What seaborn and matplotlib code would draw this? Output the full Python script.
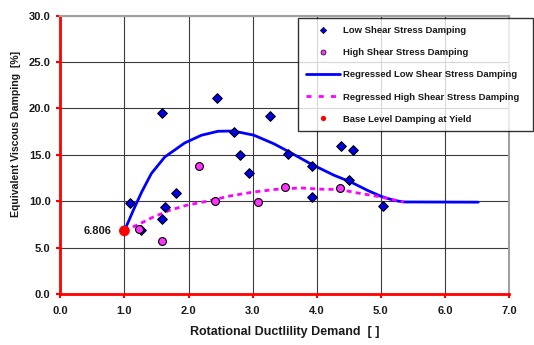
import matplotlib
matplotlib.use("Agg")
import matplotlib.pyplot as plt
from matplotlib.lines import Line2D
import seaborn as sns
import pandas as pd

# ---- data ----
low_x = [1.09, 1.26, 1.59, 1.58, 1.63, 1.80, 2.44, 2.71, 2.81, 2.95, 3.27, 3.55, 3.93, 3.93, 4.38, 4.50, 4.57, 5.04]
low_y = [9.78, 6.95, 19.49, 8.09, 9.35, 10.90, 21.14, 17.48, 14.96, 13.09, 19.14, 15.14, 13.80, 10.50, 16.00, 12.30, 15.50, 9.53]

high_x = [1.23, 1.59, 2.16, 2.42, 3.09, 3.51, 4.36]
high_y = [7.05, 5.75, 13.85, 10.00, 9.93, 11.49, 11.40]

reg_low_x = [1.0, 1.14, 1.27, 1.42, 1.63, 1.94, 2.20, 2.46, 2.70, 3.02, 3.33, 3.59, 3.90, 4.27, 4.53, 4.79, 5.0, 5.2, 5.36, 6.52]
reg_low_y = [6.806, 9.04, 11.0, 12.98, 14.77, 16.28, 17.11, 17.54, 17.57, 17.12, 16.2, 15.25, 14.05, 12.8, 12.08, 11.18, 10.54, 10.1, 9.92, 9.9]

reg_high_x = [1.0, 1.25, 1.45, 1.71, 1.97, 2.29, 2.65, 3.02, 3.38, 3.75, 4.06, 4.36, 4.63, 4.94, 5.18, 5.36]
reg_high_y = [6.806, 7.6, 8.3, 9.03, 9.57, 10.0, 10.57, 11.0, 11.29, 11.43, 11.3, 11.26, 10.9, 10.54, 10.18, 9.92]

base_x = [1.0]
base_y = [6.806]
base_label = "6.806"

x_ticks = [0.0, 1.0, 2.0, 3.0, 4.0, 5.0, 6.0, 7.0]
y_ticks = [0.0, 5.0, 10.0, 15.0, 20.0, 25.0, 30.0]

legend_labels = ["Low Shear Stress Damping", "High Shear Stress Damping",
                 "Regressed Low Shear Stress Damping", "Regressed High Shear Stress Damping",
                 "Base Level Damping at Yield"]

# ---- styling ----
sns.set_theme(style="white")
plt.rcParams['font.family'] = ['Liberation Sans', 'DejaVu Sans']
plt.rcParams['font.weight'] = 'bold'

BLUE = '#0000E6'
MAG = '#FF33FF'

fig = plt.figure(figsize=(5.34, 3.45), dpi=100)
ax = fig.add_axes([60.3/534, 1-294/345, (509-60.3)/534, (294-15.7)/345])

df_low = pd.DataFrame({"x": low_x, "y": low_y})
df_high = pd.DataFrame({"x": high_x, "y": high_y})
df_rl = pd.DataFrame({"x": reg_low_x, "y": reg_low_y})
df_rh = pd.DataFrame({"x": reg_high_x, "y": reg_high_y})
df_b = pd.DataFrame({"x": base_x, "y": base_y})

sns.lineplot(data=df_rl, x="x", y="y", sort=False, ax=ax, color='#0000FF', lw=2.0, zorder=3)
sns.lineplot(data=df_rh, x="x", y="y", sort=False, ax=ax, color='#FF00FF', lw=2.0,
             dashes=False, zorder=3).lines[-1].set_dashes([1.8, 1.5])
sns.scatterplot(data=df_low, x="x", y="y", ax=ax, marker='D', s=24, color=BLUE,
                edgecolor='black', linewidth=0.8, zorder=4)
sns.scatterplot(data=df_high, x="x", y="y", ax=ax, marker='o', s=32, color=MAG,
                edgecolor='black', linewidth=0.8, zorder=5)
sns.scatterplot(data=df_b, x="x", y="y", ax=ax, marker='o', s=60, color='#FF0000',
                edgecolor='none', linewidth=0, zorder=6)

ax.text(0.8, base_y[0], base_label, ha='right', va='center', fontsize=8,
        fontweight='bold', color='#1a1a1a')

ax.set_xlim(0, 7)
ax.set_ylim(0, 30)
ax.set_xticks(x_ticks)
ax.set_yticks(y_ticks)
ax.set_xticklabels([f"{v:.1f}" for v in x_ticks], fontsize=8, fontweight='bold')
ax.set_yticklabels([f"{v:.1f}" for v in y_ticks], fontsize=8, fontweight='bold')
ax.grid(True, color='#3a3a3a', lw=0.8)
ax.set_axisbelow(True)

for s in ['left', 'bottom']:
    ax.spines[s].set_color('#FF0000')
    ax.spines[s].set_linewidth(2.0)
for s in ['top', 'right']:
    ax.spines[s].set_color('#A0A0A0')
    ax.spines[s].set_linewidth(1.5)
ax.tick_params(axis='both', which='major', direction='out', length=3, width=1.5,
               color='#FF0000', pad=4, labelcolor='#1a1a1a')
ax.tick_params(axis='x', pad=6)
ax.tick_params(left=True, bottom=True)

ax.set_xlabel("Rotational Ductlility Demand  [ ]", fontsize=9, fontweight='bold',
              color='#1a1a1a')
ax.xaxis.set_label_coords(0.5, -(331.7 - 294) / (294 - 15.7), transform=ax.transAxes)
ax.xaxis.label.set_va('center')
ax.set_ylabel("Equivalent Viscous Damping  [%]", fontsize=7.6, fontweight='bold',
              color='#1a1a1a')
ax.yaxis.set_label_coords(-(60.3 - 16) / (509 - 60.3), (294 - 134) / (294 - 15.7),
                          transform=ax.transAxes)
ax.yaxis.label.set_va('center')

handles = [
    Line2D([], [], ls='none', marker='D', ms=3.2, mfc=BLUE, mec='black', mew=0.5),
    Line2D([], [], ls='none', marker='o', ms=3.6, mfc=MAG, mec='black', mew=0.5),
    Line2D([], [], color='#0000FF', lw=2.0),
    Line2D([], [], color='#FF00FF', lw=2.0, dashes=[1.8, 2.6]),
    Line2D([], [], ls='none', marker='o', ms=3.8, mfc='#FF0000', mec='none'),
]
leg = fig.legend(handles, legend_labels, loc='upper left',
                 bbox_to_anchor=(298/534, 1-128.3/345, (533-298)/534, (128.3-18.3)/345),
                 mode='expand', fontsize=6.8, frameon=True, fancybox=False,
                 borderpad=0.8, labelspacing=1.4, handlelength=3.6, handletextpad=0.4,
                 borderaxespad=0)
leg.get_frame().set_edgecolor('black')
leg.get_frame().set_linewidth(1.0)
for t in leg.get_texts():
    t.set_fontweight('bold')
    t.set_color('#1a1a1a')

fig.savefig("out.png", dpi=100)
